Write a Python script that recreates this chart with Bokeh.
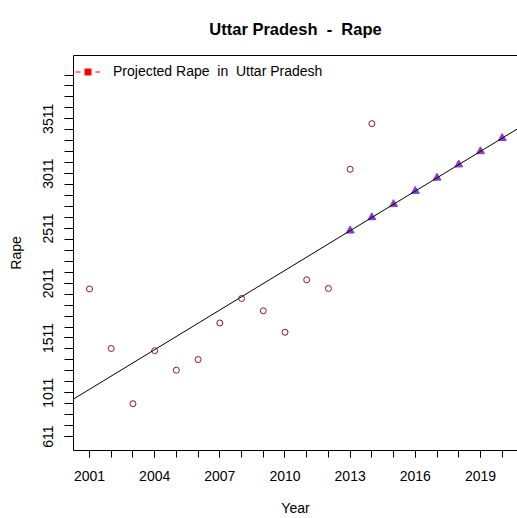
import numpy as np
from bokeh.plotting import figure
from bokeh.models import (ColumnDataSource, FixedTicker, LinearAxis, Slope,
                          Legend, LegendItem)
from bokeh.embed import file_html
from bokeh.resources import INLINE

# Reported rape cases in Uttar Pradesh
years = [2001, 2002, 2003, 2004, 2005, 2006, 2007,
         2008, 2009, 2010, 2011, 2012, 2013, 2014]
rape_cases = [1958, 1415, 911, 1395, 1217, 1314, 1648,
              1871, 1759, 1563, 2042, 1963, 3050, 3467]

# Projected values from the linear trend
proj_years = [2013, 2014, 2015, 2016, 2017, 2018, 2019, 2020]
proj_cases = [2490, 2611, 2731, 2852, 2972, 3093, 3214, 3334]

# Axis ticks
x_labelled = [2001, 2004, 2007, 2010, 2013, 2016, 2019]
x_ticks = list(range(2001, 2021))
y_labelled = [611, 1011, 1511, 2011, 2511, 3011, 3511]
y_ticks = list(range(611, 3912, 100))

FONT = "Liberation Sans"
NBSP = "\u00a0"

p = figure(width=517, height=518,
           x_range=(2000.263, 2020.705), y_range=(484, 4089),
           output_backend="svg", toolbar_location=None,
           min_border_left=73, min_border_right=0,
           min_border_top=54, min_border_bottom=65,
           x_axis_type=None, y_axis_type=None)
p.outline_line_color = None
p.xgrid.visible = False
p.ygrid.visible = False
p.background_fill_color = "white"
p.border_fill_color = "white"

# non-breaking spaces keep the wide gaps around the dash
p.title.text = "Uttar Pradesh" + NBSP + " -" + NBSP + " Rape"
p.title.align = "center"
p.title.text_font = FONT
p.title.text_font_size = "16.5px"
p.title.text_font_style = "bold"
p.title.text_color = "black"
p.title.standoff = 35


def style_axis(ax, tick_len):
    ax.axis_line_color = "black"
    ax.axis_line_width = 1
    ax.major_tick_line_color = "black"
    ax.minor_tick_line_color = "black"
    ax.major_tick_in = 0
    ax.minor_tick_in = 0
    ax.major_tick_out = tick_len
    ax.minor_tick_out = tick_len
    ax.major_label_text_font = FONT
    ax.major_label_text_font_size = "14px"
    ax.major_label_text_color = "black"
    ax.axis_label_text_font = FONT
    ax.axis_label_text_font_size = "14px"
    ax.axis_label_text_font_style = "normal"
    ax.axis_label_text_color = "black"


xaxis = LinearAxis(ticker=FixedTicker(ticks=x_labelled, minor_ticks=x_ticks),
                   axis_label="Year")
style_axis(xaxis, 7)
xaxis.major_label_standoff = 13
xaxis.axis_label_standoff = 16
p.add_layout(xaxis, "below")

yaxis = LinearAxis(ticker=FixedTicker(ticks=y_labelled, minor_ticks=y_ticks),
                   axis_label="Rape")
style_axis(yaxis, 9)
yaxis.major_label_orientation = "vertical"
yaxis.major_label_standoff = 11
yaxis.axis_label_standoff = 17
p.add_layout(yaxis, "left")

# plain top border line
top = LinearAxis(ticker=FixedTicker(ticks=[]))
top.axis_line_color = "black"
top.major_tick_out = 0
top.minor_tick_out = 0
top.major_tick_in = 0
top.minor_tick_in = 0
top.major_label_standoff = 0
top.major_label_text_font_size = "0px"
p.add_layout(top, "above")

# trend line fitted to the reported cases
slope, intercept = np.polyfit(years, rape_cases, 1)
p.add_layout(Slope(gradient=slope, y_intercept=intercept,
                   line_color="black", line_width=1))

obs = ColumnDataSource(dict(x=years, y=rape_cases))
p.scatter("x", "y", source=obs, marker="circle", size=6,
          fill_color=None, line_color="#8b1a1a", line_width=1)

# projected points drawn as arrowheads pointing down the trend line
proj = ColumnDataSource(dict(x=proj_years, y=proj_cases))
p.scatter("x", "y", source=proj, marker="triangle", size=8, angle=2.12,
          fill_color="#8a3cc8", line_color="#8a3cc8", line_width=1)

# legend key: dashed red line with a red square (no visible data)
key_src = ColumnDataSource(dict(x=[np.nan], y=[np.nan]))
key_line = p.line("x", "y", source=key_src, line_color="red",
                  line_dash="5 5", line_width=1)
key_mark = p.scatter("x", "y", source=key_src, marker="square", size=6,
                     fill_color="red", line_color="red")
legend = Legend(items=[LegendItem(label="Projected Rape  in  Uttar Pradesh",
                                  renderers=[key_line, key_mark])],
                location=(2, 371), margin=0, padding=0,
                glyph_width=25, glyph_height=15, label_height=15,
                label_standoff=13, border_line_color=None,
                background_fill_alpha=0,
                label_text_font=FONT, label_text_font_size="14px",
                label_text_color="black")
p.add_layout(legend, "center")

open("out.html", "w").write(file_html(p, INLINE))
